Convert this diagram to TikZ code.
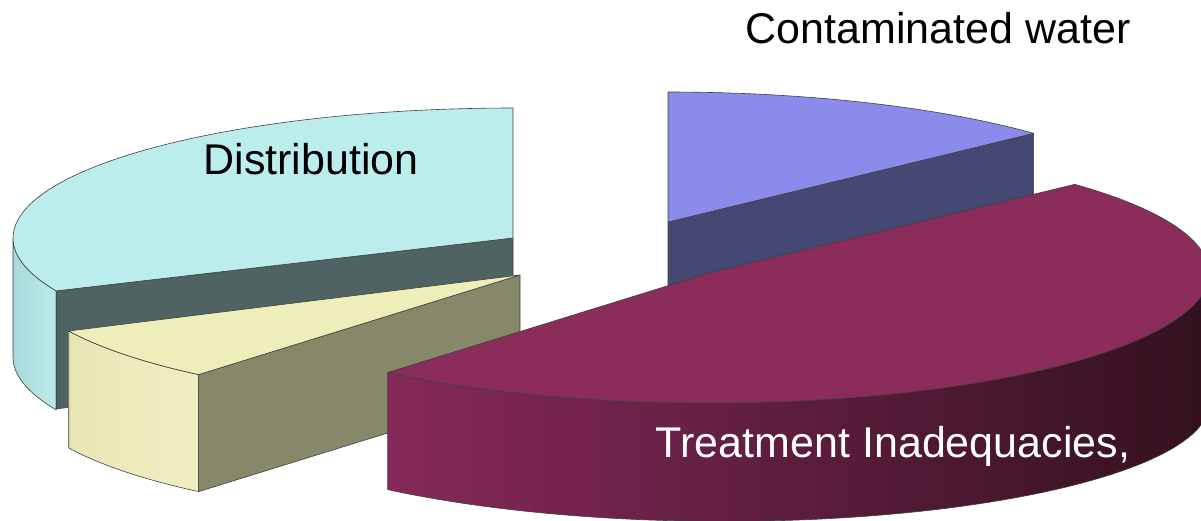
\documentclass[tikz,border=0pt]{standalone}
\usepackage{fontspec}
\setmainfont{Liberation Sans}
\usetikzlibrary{calc}
\definecolor{blueTop}{HTML}{8B8BEB}
\definecolor{blueCut}{HTML}{454873}
\definecolor{cyanTop}{HTML}{BBEDED}
\definecolor{cyanCut}{HTML}{4F6363}
\definecolor{cyanSideL}{HTML}{A9D9DA}
\definecolor{cyanSideR}{HTML}{BBEBEB}
\definecolor{yelTop}{HTML}{EEEEBB}
\definecolor{yelCut}{HTML}{878769}
\definecolor{yelSideL}{HTML}{E6E6B5}
\definecolor{yelSideR}{HTML}{EFEFC2}
\definecolor{marTop}{HTML}{8B2C5B}
\definecolor{marSideL}{HTML}{86295A}
\definecolor{marSideR}{HTML}{33111E}
\begin{document}
\begin{tikzpicture}[x=1pt,y=-1pt,
  face/.style={draw=black!75,line width=0.6pt,line join=round},
  lbl/.style={font=\fontsize{43}{50}\selectfont,inner sep=0pt,anchor=base}]
\useasboundingbox (0,0) rectangle (1201,520);
\clip (0,0) rectangle (1201,520);

% ---------- Contaminated water (blue), 43..90 deg
\coordinate (bC) at (668,222);
\coordinate (bE) at ({668+500*cos(43)},{222-130*sin(43)});
\draw[face,fill=blueCut] (bC) -- (bE) -- ($(bE)+(0,117)$) -- ($(bC)+(0,117)$) -- cycle;
\draw[face,fill=blueTop] (bC) -- (bE) -- plot[domain=43:90,samples=40] ({668+500*cos(\x)},{222-130*sin(\x)}) -- cycle;

% ---------- Distribution (cyan), 90..204 deg
\coordinate (cC) at (513,238);
\coordinate (cE) at ({513+500*cos(204)},{238-130*sin(204)});
\shadedraw[face,left color=cyanSideL,right color=cyanSideR]
  plot[domain=180:204,samples=30] ({513+500*cos(\x)},{238-130*sin(\x)})
  -- plot[domain=204:180,samples=30] ({513+500*cos(\x)},{238-130*sin(\x)+119})
  -- cycle;
\draw[face,fill=cyanCut] (cC) -- (cE) -- ($(cE)+(0,118)$) -- ($(cC)+(0,118)$) -- cycle;
\draw[face,fill=cyanTop] (cC) -- plot[domain=90:204,samples=80] ({513+500*cos(\x)},{238-130*sin(\x)}) -- cycle;

% ---------- yellow slice, 205.5..230 deg
\coordinate (yC) at (520,275);
\coordinate (yS) at ({520+500*cos(205.5)},{275-130*sin(205.5)});
\coordinate (yE) at ({520+500*cos(230)},{275-130*sin(230)});
\shadedraw[face,left color=yelSideL,right color=yelSideR]
  plot[domain=205.5:230,samples=30] ({520+500*cos(\x)},{275-130*sin(\x)})
  -- plot[domain=230:205.5,samples=30] ({520+500*cos(\x)},{275-130*sin(\x)+117})
  -- cycle;
\draw[face,fill=yelCut] (yC) -- (yE) -- ($(yE)+(0,117)$) -- ($(yC)+(0,117)$) -- cycle;
\draw[face,fill=yelTop] (yC) -- (yS) -- plot[domain=205.5:230,samples=30] ({520+500*cos(\x)},{275-130*sin(\x)}) -- cycle;

% ---------- Treatment Inadequacies (maroon), 230..403 deg
\coordinate (mC) at (709,273);
\coordinate (mS) at ({709+500*cos(230)},{273-130*sin(230)});
\shadedraw[face,left color=marSideL,right color=marSideR]
  plot[domain=230:360,samples=80] ({709+500*cos(\x)},{273-130*sin(\x)})
  -- plot[domain=360:230,samples=80] ({709+500*cos(\x)},{273-130*sin(\x)+117+14*((\x-230)/130)^2})
  -- cycle;
\draw[face,fill=marTop] (mC) -- (mS) -- plot[domain=230:403,samples=120] ({709+500*cos(\x)},{273-130*sin(\x)}) -- cycle;

% ---------- labels
\node[lbl] (lblC) at (938,43) {Contaminated water};
\node[lbl] (lblD) at (311,174) {Distribution};
\node[lbl,text=white] (lblT) at (893,457) {Treatment Inadequacies,};
\end{tikzpicture}
\end{document}
